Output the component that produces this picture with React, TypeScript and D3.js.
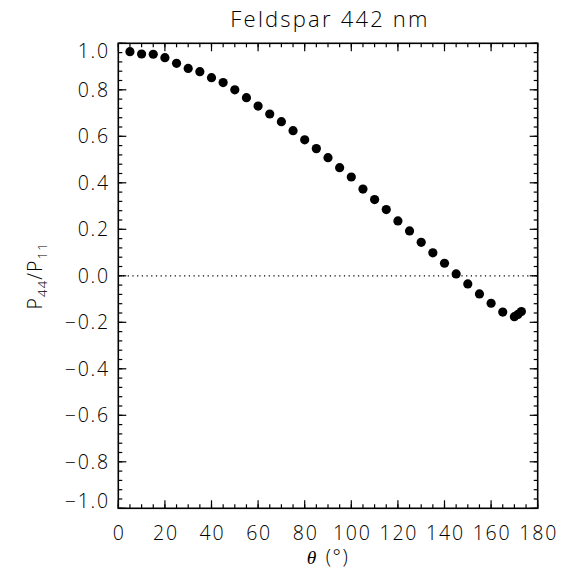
import React from "react";
import * as d3 from "d3";

const angles = [5, 10, 15, 20, 25, 30, 35, 40, 45, 50, 55, 60, 65, 70, 75, 80, 85, 90, 95, 100, 105, 110, 115, 120, 125, 130, 135, 140, 145, 150, 155, 160, 165, 170, 171.5, 173];
const ratios = [0.964, 0.954, 0.953, 0.938, 0.914, 0.892, 0.878, 0.852, 0.831, 0.8, 0.766, 0.73, 0.696, 0.663, 0.624, 0.585, 0.547, 0.508, 0.465, 0.425, 0.373, 0.328, 0.285, 0.236, 0.193, 0.144, 0.099, 0.054, 0.008, -0.035, -0.078, -0.118, -0.156, -0.176, -0.166, -0.154];
const xTicks = [0, 20, 40, 60, 80, 100, 120, 140, 160, 180];
const yTicks = [-1.0, -0.8, -0.6, -0.4, -0.2, 0.0, 0.2, 0.4, 0.6, 0.8, 1.0];
const title = "Feldspar 442 nm";

const W = 563, H = 573;
const L = 118.3, R = 537.7, T = 43.3, B = 508.3;
const FONT = "'Open Sans', 'DejaVu Sans', sans-serif";

export default function App() {
  const x = d3.scaleLinear().domain([0, 180]).range([L, R]);
  const y = d3.scaleLinear().domain([-1, 1]).range([B, T]);
  const xMinor = d3.range(0, 180.001, 5);
  const yMinor = d3.range(-1, 1.0001, 0.04);
  const fmt = (v: number) => (v < 0 ? "\u2212" : "") + Math.abs(v).toFixed(1);
  const tickCol = "#000";
  return (
    <svg width={W} height={H} style={{ position: "absolute", left: 0, top: 0, background: "#fff" }} fontFamily={FONT}>
      <rect x={0} y={0} width={W} height={H} fill="#fff" />
      <text x={(L + R) / 2 + 2} y={27} textAnchor="middle" fontSize={22} fontWeight={300} letterSpacing={2.2} fill="#000">{title}</text>
      <line x1={x(0)} x2={x(180)} y1={y(0)} y2={y(0)} stroke="#000" strokeWidth={1.2} strokeDasharray="1.2 3.5" />
      {xMinor.map((v, i) => (
        <g key={"xm" + i}>
          <line x1={x(v)} x2={x(v)} y1={B} y2={B - 4} stroke={tickCol} strokeWidth={1.2} />
          <line x1={x(v)} x2={x(v)} y1={T} y2={T + 4} stroke={tickCol} strokeWidth={1.2} />
        </g>
      ))}
      {yMinor.map((v, i) => (
        <g key={"ym" + i}>
          <line x1={L} x2={L + 4} y1={y(v)} y2={y(v)} stroke={tickCol} strokeWidth={1.2} />
          <line x1={R} x2={R - 4} y1={y(v)} y2={y(v)} stroke={tickCol} strokeWidth={1.2} />
        </g>
      ))}
      {xTicks.map((v) => (
        <g key={"xt" + v}>
          <line x1={x(v)} x2={x(v)} y1={B} y2={B - 8} stroke={tickCol} strokeWidth={1.2} />
          <line x1={x(v)} x2={x(v)} y1={T} y2={T + 8} stroke={tickCol} strokeWidth={1.2} />
          <text x={x(v) + 1} y={540} textAnchor="middle" fontSize={19.5} fontWeight={300} letterSpacing={1.8} fill="#000">{String(v)}</text>
        </g>
      ))}
      {yTicks.map((v) => {
        const yy = Math.min(Math.max(y(v), T + 8), B - 7);
        return (
          <g key={"yt" + v}>
            <line x1={L} x2={L + 8} y1={y(v)} y2={y(v)} stroke={tickCol} strokeWidth={1.2} />
            <line x1={R} x2={R - 8} y1={y(v)} y2={y(v)} stroke={tickCol} strokeWidth={1.2} />
            <text x={110} y={yy + 7} textAnchor="end" fontSize={19.5} fontWeight={300} letterSpacing={1.8} fill="#000">{fmt(v)}</text>
          </g>
        );
      })}
      <rect x={L} y={T} width={R - L} height={B - T} fill="none" stroke="#000" strokeWidth={1.6} />
      {angles.map((a, i) => (
        <circle key={"p" + i} cx={x(a)} cy={y(ratios[i])} r={4.6} fill="#000" />
      ))}
      <text x={(L + R) / 2} y={564} textAnchor="middle" fontSize={19.5} fontWeight={300} letterSpacing={1.5} fill="#000">
        <tspan fontStyle="italic" fontFamily="'Liberation Serif', serif">θ</tspan>
        <tspan dx={8}>(°)</tspan>
      </text>
      <text transform={`translate(42, ${(T + B) / 2}) rotate(-90)`} textAnchor="middle" fontSize={19.5} fontWeight={300} letterSpacing={1.2} fill="#000">
        <tspan>P</tspan>
        <tspan fontSize={13} dy={5}>44</tspan>
        <tspan dy={-5}>/P</tspan>
        <tspan fontSize={13} dy={5}>11</tspan>
      </text>
    </svg>
  );
}
